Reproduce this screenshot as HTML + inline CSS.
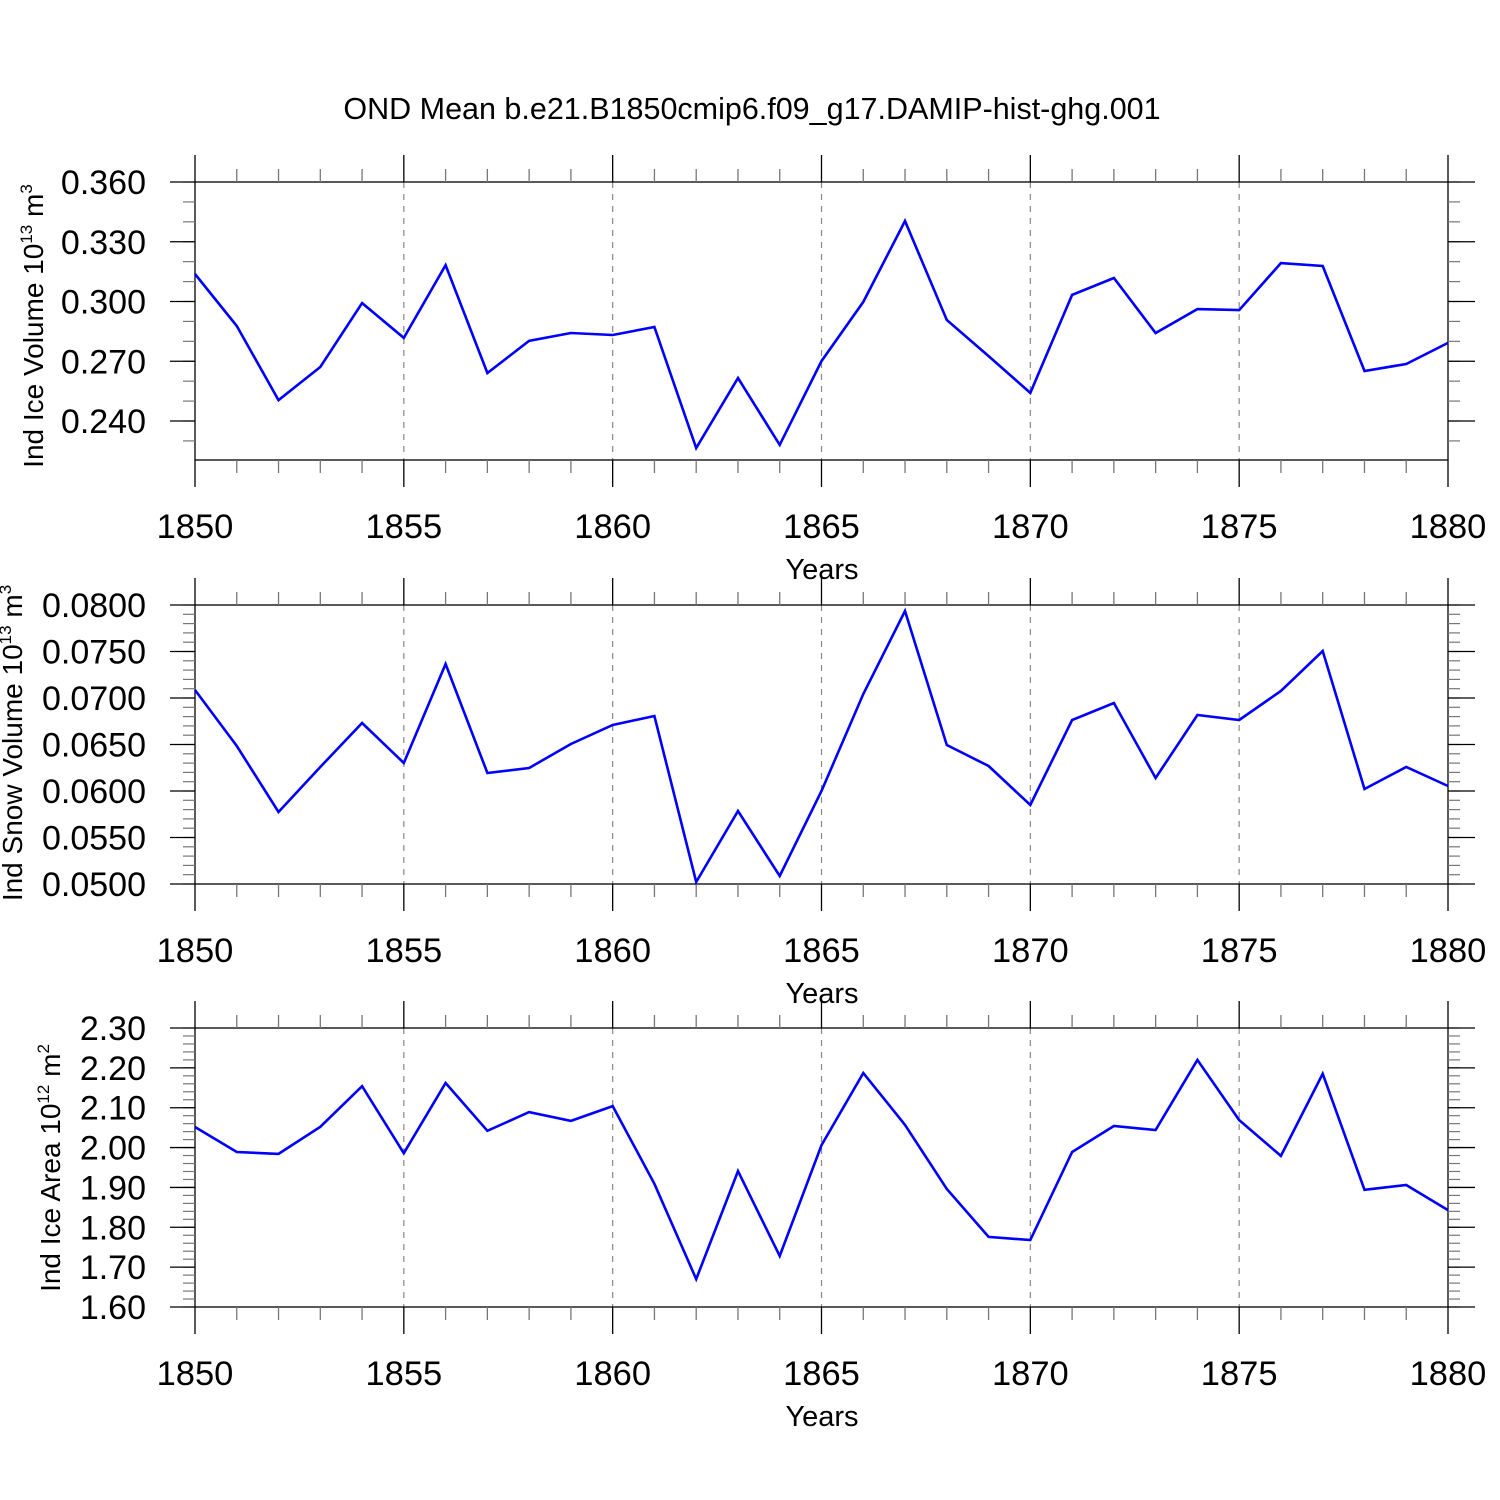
<!DOCTYPE html>
<html><head><meta charset="utf-8"><style>
html,body{margin:0;padding:0;background:#fff}
svg{display:block;font-family:"Liberation Sans",Arial,sans-serif}
</style></head><body>
<svg id="chart" width="1500" height="1500" viewBox="0 0 1500 1500" xmlns="http://www.w3.org/2000/svg">
<rect width="1500" height="1500" fill="#fff"/>
<text x="752" y="119" font-size="30.5" text-anchor="middle">OND Mean b.e21.B1850cmip6.f09_g17.DAMIP-hist-ghg.001</text>
</svg>
<script>
const years = [];
for (let y = 1850; y <= 1880; y++) years.push(y);
const iceVolume = [0.3138,0.2877,0.2505,0.2671,0.2992,0.2817,0.3183,0.2641,0.2802,0.2842,0.2832,0.2872,0.2264,0.2616,0.2280,0.2701,0.2998,0.3404,0.2907,0.2726,0.2541,0.3033,0.3118,0.2842,0.2962,0.2957,0.3193,0.3178,0.2651,0.2686,0.2792];
const snowVolume = [0.07086,0.06484,0.05774,0.06258,0.06731,0.06301,0.07366,0.06194,0.06247,0.06505,0.0671,0.06806,0.05022,0.05785,0.05086,0.0600,0.07043,0.07935,0.06495,0.06269,0.05849,0.06763,0.06946,0.0614,0.06817,0.06763,0.07075,0.07505,0.06022,0.06258,0.06054];
const iceArea = [2.0516,1.989,1.984,2.052,2.154,1.986,2.162,2.042,2.089,2.067,2.104,1.909,1.670,1.941,1.728,2.006,2.187,2.057,1.896,1.776,1.768,1.989,2.054,2.044,2.220,2.069,1.979,2.185,1.894,1.906,1.843];
const xTickLabels = ["1850","1855","1860","1865","1870","1875","1880"];
const iceVolTicks = ["0.240","0.270","0.300","0.330","0.360"];
const snowTicks = ["0.0500","0.0550","0.0600","0.0650","0.0700","0.0750","0.0800"];
const areaTicks = ["1.60","1.70","1.80","1.90","2.00","2.10","2.20","2.30"];

const svg = document.getElementById('chart');
const NS = 'http://www.w3.org/2000/svg';
function mk(tag, attrs, parent){const e=document.createElementNS(NS,tag);for(const k in attrs)e.setAttribute(k,attrs[k]);(parent||svg).appendChild(e);return e;}
const X0=195, X1=1448;
function xs(yr){return X0+(yr-1850)/30*(X1-X0);}

const panels = [
 {name:'ice-volume', data:iceVolume, ticks:iceVolTicks, top:182, bot:460, vTop:0.36, vBot:0.36-278/59.75*0.03, minor:0.01, labX:33, labY:326, lab:['Ind Ice Volume 10','13',' m','3']},
 {name:'snow-volume', data:snowVolume, ticks:snowTicks, top:605, bot:884, vTop:0.08, vBot:0.05, minor:0.001, labX:12, labY:743, lab:['Ind Snow Volume 10','13',' m','3']},
 {name:'ice-area', data:iceArea, ticks:areaTicks, top:1028, bot:1307, vTop:2.30, vBot:1.60, minor:0.02, labX:50, labY:1168, lab:['Ind Ice Area 10','12',' m','2']}
];

panels.forEach(p=>{
  const g = mk('g',{});
  
  
  const ys = v => p.top + (p.vTop - v)/(p.vTop - p.vBot)*(p.bot-p.top);
  for (let yr=1855; yr<=1875; yr+=5){
    const l = mk('line',{x1:xs(yr),x2:xs(yr),y1:p.top,y2:p.bot,stroke:'#888','stroke-width':1.2,'stroke-dasharray':'6,6'},g);
    
    
  }
  mk('rect',{x:X0,y:p.top,width:X1-X0,height:p.bot-p.top,fill:'none',stroke:'#000','stroke-width':1.3},g);
  years.forEach(yr=>{
    const major = (yr-1850)%5===0, len = major?27:13, c = major?'#000':'#777';
    mk('line',{x1:xs(yr),x2:xs(yr),y1:p.top,y2:p.top-len,stroke:c,'stroke-width':1.3},g);
    mk('line',{x1:xs(yr),x2:xs(yr),y1:p.bot,y2:p.bot+len,stroke:c,'stroke-width':1.3},g);
  });
  xTickLabels.forEach(t=>{
    const tl = mk('text',{x:xs(+t),y:p.bot+78,'font-size':34.5,'text-anchor':'middle'},g);
    tl.textContent=t;
    
    
  });
  const xt = mk('text',{x:822,y:p.bot+119,'font-size':29,'text-anchor':'middle'},g);
  xt.textContent='Years';
  
  
  const n = Math.round((p.vTop-p.vBot)/p.minor)+1;
  for (let i=0;i<=n;i++){
    const v = p.vTop - i*p.minor;
    if (v < p.vBot-1e-9) break;
    const y = ys(v);
    mk('line',{x1:X0,x2:X0-12,y1:y,y2:y,stroke:'#777','stroke-width':1.2},g);
    mk('line',{x1:X1,x2:X1+12,y1:y,y2:y,stroke:'#777','stroke-width':1.2},g);
  }
  p.ticks.forEach(t=>{
    const y = ys(+t);
    mk('line',{x1:X0,x2:X0-25,y1:y,y2:y,stroke:'#000','stroke-width':1.3},g);
    mk('line',{x1:X1,x2:X1+27,y1:y,y2:y,stroke:'#000','stroke-width':1.3},g);
    const tl = mk('text',{x:146,y:y+12,'font-size':34,'text-anchor':'end'},g);
    tl.textContent=t;
    
    
  });
  const yt = mk('text',{x:0,y:0,'font-size':28,'text-anchor':'middle',transform:`translate(${p.labX+10},${p.labY}) rotate(-90)`},g);
  
  
  const s1=mk('tspan',{},yt); s1.textContent=p.lab[0];
  const s2=mk('tspan',{dy:-11,'font-size':17},yt); s2.textContent=p.lab[1];
  const s3=mk('tspan',{dy:11},yt); s3.textContent=p.lab[2];
  const s4=mk('tspan',{dy:-11,'font-size':17},yt); s4.textContent=p.lab[3];
  const pts = p.data.map((v,i)=>xs(years[i]).toFixed(1)+','+ys(v).toFixed(1)).join(' ');
  const line = mk('polyline',{points:pts,fill:'none',stroke:'#0000ff','stroke-width':2.6,'stroke-linejoin':'miter'},g);
  
  
});
</script>
</body></html>
